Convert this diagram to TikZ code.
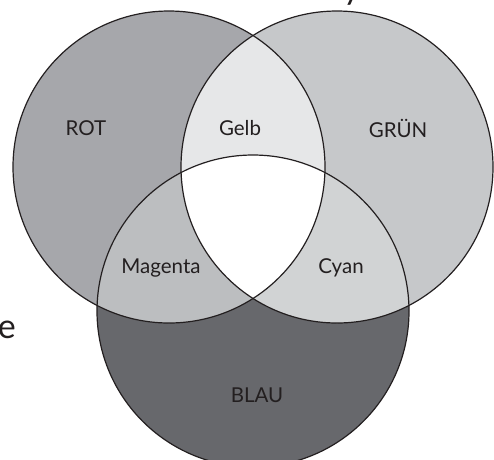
\documentclass[tikz,border=0pt]{standalone}
\usepackage{fontspec}
\setmainfont{Lato}
\definecolor{rotgray}{HTML}{A6A7AB}
\definecolor{gruengray}{HTML}{C6C8CA}
\definecolor{blaugray}{HTML}{67686C}
\definecolor{gelbgray}{HTML}{E6E7E8}
\definecolor{magentagray}{HTML}{BCBEC0}
\definecolor{cyangray}{HTML}{D1D3D4}
\definecolor{inkgray}{HTML}{231F20}

\begin{document}
\begin{tikzpicture}[x=1pt, y=-1pt, every node/.style={font=\fontsize{20.5}{23}\selectfont, text=inkgray}, ring/.style={draw=inkgray, line width=1.2pt}]
	\useasboundingbox (0,0) rectangle (494,459);
	\coordinate (rot) at (169,167); \coordinate (gruen) at (337,167); \coordinate (blau) at (253,311);
	% single colours
	\fill[rotgray] (rot) circle (156pt);
	\fill[gruengray] (gruen) circle (156pt);
	\fill[blaugray] (blau) circle (156pt);
	% overlaps
	\begin{scope}
		\clip (rot) circle (156pt); \fill[gelbgray] (gruen) circle (156pt); \fill[magentagray] (blau) circle (156pt);
	\end{scope}
	\begin{scope}
		\clip (gruen) circle (156pt); \fill[cyangray] (blau) circle (156pt);
	\end{scope}
	\begin{scope}
		\clip (rot) circle (156pt); \clip (gruen) circle (156pt); \fill[white] (blau) circle (156pt);
	\end{scope}
	\draw[ring] (rot) circle (156pt); \draw[ring] (gruen) circle (156pt); \draw[ring] (blau) circle (156pt);
	% labels
	\node (rotlabel) at (86,128) {ROT};
	\node (gelblabel) at (240,128) {Gelb};
	\node (gruenlabel) at (398,128) {GRÜN};
	\node (magentalabel) at (161,268) {Magenta};
	\node (cyanlabel) at (341,268) {Cyan};
	\node (blaulabel) at (257,395) {BLAU};
	% cut-off text at the edges
	\node[anchor=base east, inner sep=0pt, font=\fontsize{34}{36}\selectfont] (leftcut) at (16,338) {e};
	\node[anchor=base, inner sep=0pt, font=\fontsize{34}{36}\selectfont] (topcut) at (352,-1) {y};
\end{tikzpicture}
\end{document}
